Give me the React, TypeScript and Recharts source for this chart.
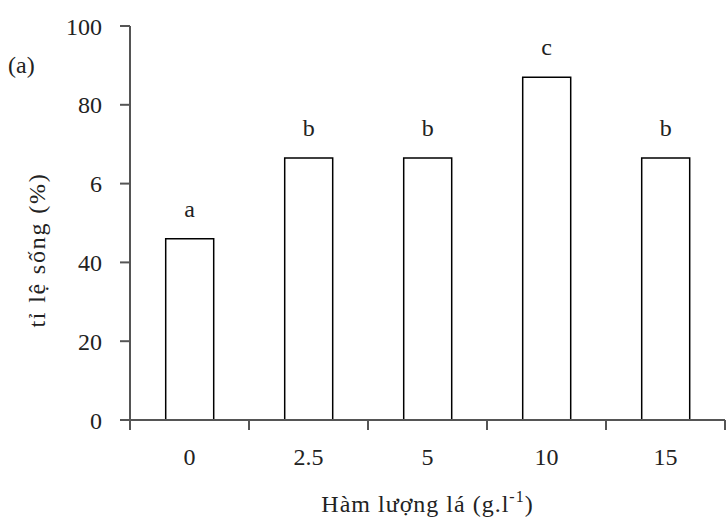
import { BarChart, Bar, XAxis, YAxis, LabelList } from 'recharts'

const doses = ['0', '2.5', '5', '10', '15']
const survival = [46, 66.5, 66.5, 87, 66.5]
const letters = ['a', 'b', 'b', 'c', 'b']
const yTicks = [0, 20, 40, 60, 80, 100]
const yTickLabels = ['0', '20', '40', '6', '80', '100']

const data = doses.map((d, i) => ({ dose: d, value: survival[i], letter: letters[i] }))

const W = 726
const H = 519
const margin = { top: 26, right: 1, left: 0, bottom: 0 }
const yAxisWidth = 130
const xAxisHeight = 99
const band = (W - margin.left - margin.right - yAxisWidth) / doses.length
const font = '"Liberation Serif", "Times New Roman", serif'
const axisColor = '#555'
const textColor = '#222'

function XTick(props: any) {
  const { x, y, payload, index } = props
  const last = index === doses.length - 1
  return (
    <g>
      <line x1={x - band / 2} y1={y} x2={x - band / 2} y2={y + 10} stroke={axisColor} strokeWidth={2} />
      {last && <line x1={x + band / 2} y1={y} x2={x + band / 2} y2={y + 10} stroke={axisColor} strokeWidth={2} />}
      <text x={x} y={y + 45} textAnchor="middle" fontSize={24} fontFamily={font} fill={textColor}>
        {payload.value}
      </text>
    </g>
  )
}

function XLabel(props: any) {
  const { viewBox } = props
  const cx = viewBox.x + viewBox.width / 2
  return (
    <text x={cx} y={viewBox.y + 92} textAnchor="middle" fontSize={24} letterSpacing={1} fontFamily={font} fill={textColor}>
      Hàm lượng lá (g.l
      <tspan dy={-10} fontSize={16}>-1</tspan>
      <tspan dy={10}>)</tspan>
    </text>
  )
}

function YLabel(props: any) {
  const { viewBox } = props
  const cy = viewBox.y + viewBox.height / 2 + 27
  return (
    <text x={45} y={cy} transform={`rotate(-90 45 ${cy})`} textAnchor="middle" fontSize={24} letterSpacing={1.8} fontFamily={font} fill={textColor}>
      tỉ lệ sống (%)
    </text>
  )
}

export default function App() {
  return (
    <div style={{ position: 'absolute', left: 0, top: 0, width: W, height: H, background: '#fff' }}>
      <div style={{ position: 'absolute', left: 8, top: 52, fontSize: 24, fontFamily: font, color: textColor }}>(a)</div>
      <BarChart width={W} height={H} data={data} margin={margin} barCategoryGap="30%">
        <XAxis
          dataKey="dose"
          height={xAxisHeight}
          tickLine={false}
          tickSize={0}
          tickMargin={0}
          axisLine={{ stroke: axisColor, strokeWidth: 2 }}
          tick={<XTick />}
          interval={0}
          label={<XLabel />}
        />
        <YAxis
          width={yAxisWidth}
          domain={[0, 100]}
          ticks={yTicks}
          interval={0}
          tickFormatter={(v: number) => yTickLabels[yTicks.indexOf(v)]}
          tickSize={10}
          tickMargin={18}
          tickLine={{ stroke: axisColor, strokeWidth: 2 }}
          axisLine={{ stroke: axisColor, strokeWidth: 2 }}
          tick={{ fontSize: 24, fontFamily: font, fill: textColor }}
          label={<YLabel />}
        />
        <Bar dataKey="value" fill="#fff" stroke="#000" strokeWidth={1.5} isAnimationActive={false}>
          <LabelList dataKey="letter" position="top" offset={22} fontSize={24} fontFamily={font} fill={textColor} />
        </Bar>
      </BarChart>
    </div>
  )
}
